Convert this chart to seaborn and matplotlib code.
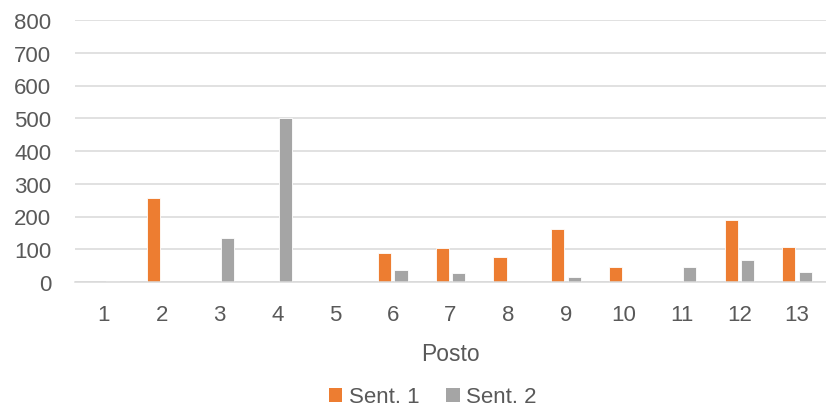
import matplotlib
matplotlib.use("Agg")
import matplotlib.pyplot as plt
import seaborn as sns
import pandas as pd
from matplotlib.patches import Patch

categories = ["1", "2", "3", "4", "5", "6", "7", "8", "9", "10", "11", "12", "13"]
sent1 = [0, 256, 0, 0, 0, 88, 104, 77, 163, 45, 0, 189, 108]
sent2 = [2, 0, 134, 502, 0, 36, 29, 0, 14, 0, 45, 67, 30]
series_names = ["Sent. 1", "Sent. 2"]
colors = ["#ED7D31", "#A5A5A5"]

df = pd.DataFrame({
    "Posto": categories * 2,
    "valor": sent1 + sent2,
    "serie": [series_names[0]] * len(categories) + [series_names[1]] * len(categories),
})

sns.set_theme(style="white")
plt.rcParams["font.family"] = ["Liberation Sans", "DejaVu Sans"]

fig = plt.figure(figsize=(8.26, 4.10), dpi=100)
ax = fig.add_axes([75 / 826, 127 / 410, (826 - 75) / 826, (283 - 21) / 410])

sns.barplot(data=df, x="Posto", y="valor", hue="serie", order=categories,
            hue_order=series_names, palette=colors, saturation=1,
            width=0.57, gap=0.2, edgecolor="white", linewidth=0.6,
            ax=ax, legend=False)

ax.set_ylim(0, 800)
ax.set_xlim(-0.5, len(categories) - 0.5)
ax.set_yticks(range(0, 801, 100))
ax.yaxis.grid(True, color="#D9D9D9", linewidth=1.1)
ax.set_axisbelow(True)
for side in ["top", "right", "left"]:
    ax.spines[side].set_visible(False)
ax.spines["bottom"].set_color("#D9D9D9")
ax.spines["bottom"].set_linewidth(1.1)
ax.tick_params(axis="both", length=0, labelsize=16, labelcolor="#595959")
ax.tick_params(axis="x", pad=16)
ax.tick_params(axis="y", pad=17)
ax.set_ylabel("")
ax.set_xlabel("Posto", fontsize=16.5, color="#595959", labelpad=12)

handles = [Patch(facecolor=c, edgecolor="none") for c in colors]
fig.legend(handles, series_names, loc="center", bbox_to_anchor=(433 / 826, 12 / 410),
           ncol=2, frameon=False, fontsize=16, labelcolor="#595959",
           handlelength=0.6, handleheight=0.6, handletextpad=0.3, columnspacing=1.2)

fig.savefig("out.png", dpi=100)
